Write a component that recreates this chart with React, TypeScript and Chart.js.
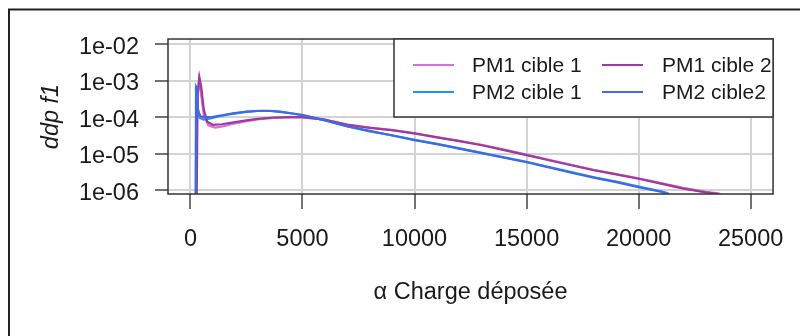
import React, { useEffect, useRef } from "react";
import { Chart, registerables } from "chart.js";

Chart.register(...registerables);

const FONT = "'Liberation Sans', Arial, Helvetica, sans-serif";

// ---- Data ----
const SERIES_LABELS = ["PM1 cible 1", "PM2 cible 1", "PM1 cible 2", "PM2 cible2"];
const SERIES_COLORS = ["#DA70D6", "#1E90FF", "#9E3A9C", "#4169E1"];

const PM1_C1_X = [250, 300, 380, 470, 600, 800, 1100, 1500, 2000, 2500, 3000, 3700, 4400, 5000, 6000, 7000, 8000, 9000, 10000, 11000, 12000, 13000, 14000, 15000, 16000, 17000, 18000, 19000, 20000, 21000, 22000, 23000, 23600, 23800];
const PM1_C1_Y = [1e-7, 3e-4, 1.0e-3, 4.5e-4, 1.1e-4, 6e-5, 5.2e-5, 5.7e-5, 6.8e-5, 7.8e-5, 8.7e-5, 9.5e-5, 9.9e-5, 9.8e-5, 8.5e-5, 6.3e-5, 5.2e-5, 4.4e-5, 3.6e-5, 2.85e-5, 2.25e-5, 1.75e-5, 1.3e-5, 9.4e-6, 6.8e-6, 4.9e-6, 3.6e-6, 2.75e-6, 2.1e-6, 1.55e-6, 1.15e-6, 8.9e-7, 8e-7, 6e-7];

const PM2_C1_X = [230, 250, 280, 330, 420, 600, 900, 1300, 1800, 2400, 3000, 3500, 4000, 4500, 5000, 6000, 7000, 8000, 9000, 10000, 11000, 12000, 13000, 14000, 15000, 16000, 17000, 18000, 19000, 20000, 21000, 21300, 21400];
const PM2_C1_Y = [1e-7, 6.8e-4, 6.2e-4, 1.8e-4, 9.5e-5, 8.6e-5, 9.2e-5, 1.06e-4, 1.22e-4, 1.38e-4, 1.48e-4, 1.5e-4, 1.42e-4, 1.28e-4, 1.14e-4, 8.3e-5, 5.7e-5, 4.1e-5, 3.2e-5, 2.4e-5, 1.85e-5, 1.4e-5, 1.05e-5, 7.9e-6, 6.0e-6, 4.3e-6, 3.1e-6, 2.25e-6, 1.7e-6, 1.25e-6, 9.2e-7, 8.2e-7, 6e-7];

const PM1_C2_X = [270, 320, 400, 480, 600, 750, 1000, 1400, 2000, 2500, 3000, 3700, 4500, 5000, 6000, 7000, 8000, 9000, 10000, 11000, 12000, 13000, 14000, 15000, 16000, 17000, 18000, 19000, 20000, 21000, 22000, 23000, 23500, 23700];
const PM1_C2_Y = [1e-7, 4e-4, 1.25e-3, 7e-4, 1.6e-4, 7.5e-5, 6.2e-5, 6.4e-5, 7.3e-5, 8.2e-5, 9e-5, 9.8e-5, 1.01e-4, 1.0e-4, 8.6e-5, 6.2e-5, 5.1e-5, 4.4e-5, 3.6e-5, 2.8e-5, 2.2e-5, 1.7e-5, 1.25e-5, 9.1e-6, 6.6e-6, 4.8e-6, 3.5e-6, 2.7e-6, 2.05e-6, 1.5e-6, 1.1e-6, 8.7e-7, 7.9e-7, 6e-7];

const PM2_C2_X = [240, 260, 290, 340, 450, 650, 1000, 1400, 1900, 2500, 3100, 3600, 4100, 4600, 5000, 6000, 7000, 8000, 9000, 10000, 11000, 12000, 13000, 14000, 15000, 16000, 17000, 18000, 19000, 20000, 21000, 21200, 21300];
const PM2_C2_Y = [1e-7, 7.2e-4, 5.5e-4, 1.5e-4, 1.05e-4, 1.0e-4, 1.03e-4, 1.12e-4, 1.27e-4, 1.42e-4, 1.5e-4, 1.48e-4, 1.38e-4, 1.24e-4, 1.15e-4, 8.2e-5, 5.6e-5, 4.2e-5, 3.15e-5, 2.35e-5, 1.82e-5, 1.38e-5, 1.03e-5, 7.7e-6, 5.8e-6, 4.2e-6, 3.0e-6, 2.2e-6, 1.65e-6, 1.2e-6, 9e-7, 8.1e-7, 6e-7];

const X_TICKS = [0, 5000, 10000, 15000, 20000, 25000];
const Y_TICKS = [1e-6, 1e-5, 1e-4, 1e-3, 1e-2];
const Y_TICK_LABELS = ["1e-06", "1e-05", "1e-04", "1e-03", "1e-02"];

const X_TITLE = "α Charge déposée";
const Y_TITLE = "ddp f1";

const toPoints = (xs: number[], ys: number[]) => xs.map((x, i) => ({ x, y: ys[i] }));

const rPlotPlugin = {
  id: "rPlot",
  beforeDraw(chart: any) {
    const { ctx, width, height } = chart;
    ctx.save();
    ctx.fillStyle = "#ffffff";
    ctx.fillRect(0, 0, width, height);
    ctx.strokeStyle = "#222";
    ctx.lineWidth = 2;
    ctx.beginPath();
    ctx.moveTo(9, height + 2);
    ctx.lineTo(9, 9.5);
    ctx.lineTo(width + 2, 9.5);
    ctx.stroke();
    ctx.restore();
  },
  afterDatasetsDraw(chart: any) {
    const { ctx, chartArea } = chart;
    const { left, top, right, bottom } = chartArea;
    ctx.save();
    ctx.strokeStyle = "#333";
    ctx.lineWidth = 1.5;
    ctx.strokeRect(left, top, right - left, bottom - top);

    const lx = 394, ly = top, lw = right - 394, lh = 117 - top;
    ctx.fillStyle = "#fff";
    ctx.fillRect(lx, ly, lw, lh);
    ctx.strokeRect(lx, ly, lw, lh);

    const colLine = [413, 602];
    const colText = [472, 662];
    const rowY = [65, 92];
    ctx.font = `21px ${FONT}`;
    ctx.textBaseline = "middle";
    ctx.textAlign = "left";
    chart.data.datasets.forEach((ds: any, i: number) => {
      const c = Math.floor(i / 2);
      const r = i % 2;
      ctx.strokeStyle = ds.borderColor;
      ctx.lineWidth = 2;
      ctx.beginPath();
      ctx.moveTo(colLine[c], rowY[r]);
      ctx.lineTo(colLine[c] + 41, rowY[r]);
      ctx.stroke();
      ctx.fillStyle = "#1a1a1a";
      ctx.fillText(ds.label, colText[c], rowY[r] + 1);
    });
    ctx.restore();
  },
};

export default function App() {
  const ref = useRef<HTMLCanvasElement>(null);

  useEffect(() => {
    const series = [
      toPoints(PM1_C1_X, PM1_C1_Y),
      toPoints(PM2_C1_X, PM2_C1_Y),
      toPoints(PM1_C2_X, PM1_C2_Y),
      toPoints(PM2_C2_X, PM2_C2_Y),
    ];
    const chart = new Chart(ref.current as HTMLCanvasElement, {
      type: "line",
      data: {
        datasets: series.map((data, i) => ({
          label: SERIES_LABELS[i],
          data,
          borderColor: SERIES_COLORS[i],
          backgroundColor: SERIES_COLORS[i],
          borderWidth: 2.2,
          pointRadius: 0,
          tension: 0,
          fill: false,
          order: 4 - i,
        })),
      },
      options: {
        responsive: false,
        animation: false,
        devicePixelRatio: 1,
        parsing: false as any,
        layout: { padding: { top: 39, right: 18, left: 0, bottom: 0 } },
        plugins: { legend: { display: false }, tooltip: { enabled: false } },
        scales: {
          x: {
            type: "linear",
            min: -1000,
            max: 26000,
            afterBuildTicks: (s: any) => {
              s.ticks = X_TICKS.map((v) => ({ value: v }));
            },
            afterFit: (s: any) => {
              s.height = 142;
            },
            ticks: {
              callback: (v: any) => String(v),
              font: { family: FONT, size: 23.5 },
              color: "#1a1a1a",
              padding: 16,
              maxRotation: 0,
              autoSkip: false,
            },
            grid: { color: "#d3d3d3", lineWidth: 2, tickColor: "#444", tickLength: 15, tickWidth: 1.5 },
            border: { display: false },
            title: {
              display: true,
              text: X_TITLE,
              font: { family: FONT, size: 23.5 },
              color: "#1a1a1a",
              padding: { top: 0, bottom: 29 },
            },
          },
          y: {
            type: "logarithmic",
            min: Math.pow(10, -6.107),
            max: Math.pow(10, -1.855),
            afterBuildTicks: (s: any) => {
              s.ticks = Y_TICKS.map((v) => ({ value: v }));
            },
            afterFit: (s: any) => {
              s.width = 168;
            },
            ticks: {
              callback: (_v: any, i: number) => Y_TICK_LABELS[i],
              font: { family: FONT, size: 23.5 },
              color: "#1a1a1a",
              padding: 16,
              labelOffset: 3,
              autoSkip: false,
            },
            grid: { color: "#d3d3d3", lineWidth: 2, tickColor: "#444", tickLength: 13, tickWidth: 1.5 },
            border: { display: false },
            title: {
              display: true,
              text: Y_TITLE,
              font: { family: FONT, size: 23.5, style: "italic" },
              color: "#1a1a1a",
              padding: { top: 37, bottom: 0 },
            },
          },
        },
      },
      plugins: [rPlotPlugin],
    } as any);
    return () => chart.destroy();
  }, []);

  return (
    <div style={{ position: "fixed", left: 0, top: 0, width: 800, height: 336, background: "#fff" }}>
      <canvas ref={ref} width={800} height={336} style={{ display: "block", width: 800, height: 336 }} />
    </div>
  );
}
